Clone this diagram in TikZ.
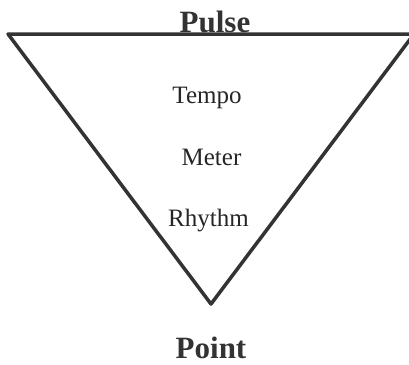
\documentclass[tikz,border=0pt]{standalone}
\usepackage{fontspec}
\setmainfont{Liberation Serif}
\usetikzlibrary{positioning}
\begin{document}
\begin{tikzpicture}[x=1pt, y=-1pt,
  edge/.style={draw=black!80, line width=3.5pt, line join=round},
  title/.style={font=\fontsize{31}{36}\selectfont\bfseries, text=black!80, inner sep=0pt, anchor=base},
  level/.style={font=\fontsize{25}{30}\selectfont, text=black!85, inner sep=0pt, anchor=base},
]
  \useasboundingbox (0,0) rectangle (409,364);
  \coordinate (topleft) at (8,34);
  \coordinate (topright) at (414,34);
  \coordinate (tip) at (211,304);
  \draw[edge] (topleft) -- (topright) -- (tip) -- cycle;
  \node[title] (pulse) at (215,32) {Pulse};
  \node[level] (tempo) at (207,103) {Tempo};
  \node[level] (meter) at (211.5,165) {Meter};
  \node[level] (rhythm) at (208.5,226) {Rhythm};
  \node[title] (point) at (211,358) {Point};
\end{tikzpicture}
\end{document}
